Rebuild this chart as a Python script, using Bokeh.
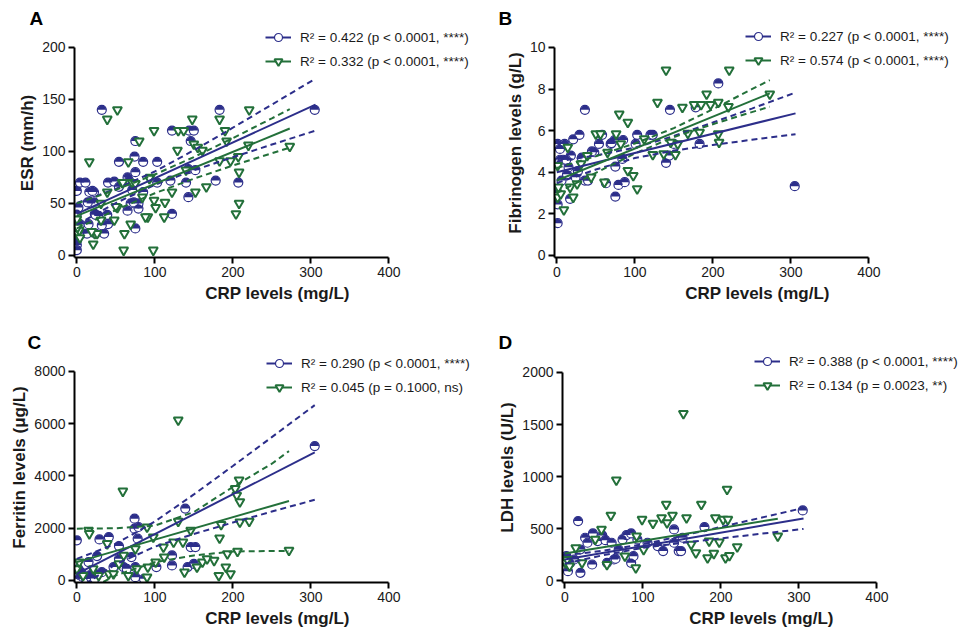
from math import pi
from bokeh.plotting import figure
from bokeh.models import FixedTicker, Legend, LegendItem, Range1d
from bokeh.layouts import column, row
from bokeh.embed import file_html
from bokeh.resources import INLINE

BLUE = "#2c2e8a"
GREEN = "#23703a"
FONT = "Liberation Sans"

x_ticks = [0, 100, 200, 300, 400]
x_label = "CRP levels (mg/L)"

# ---------------- Panel A : ESR ----------------
a_blue_x = [0, 0, 0, 0, 0, 2, 4, 4, 7, 11, 13, 15, 16, 18, 22, 23, 28, 32, 35, 40, 40, 48, 54, 54, 65, 69, 74, 75, 75, 75,
            79, 79, 85, 85, 103, 103, 120, 122, 122, 140, 143, 143, 144, 146, 150, 152, 178, 183, 207, 305,
            20, 22, 14, 24, 3, 24, 32, 39, 65, 73, 71, 67]
a_blue_y = [62, 40, 14, 10, 5, 46, 70, 30, 21, 70, 21, 30, 61, 50, 61, 40, 38, 140, 21, 70, 30, 71, 90, 66, 75, 50, 95, 80, 110, 26,
            45, 50, 90, 61, 90, 70, 72, 120, 40, 70, 56, 83, 120, 110, 120, 82, 72, 140, 70, 140,
            62, 51, 51, 39, 21, 21, 29, 39, 43, 51, 63, 72]
a_green_x = [0, 1, 3, 4, 16, 21, 23, 26, 31, 39, 39, 48, 52, 52, 58, 60, 61, 66, 71, 75, 80, 84, 91, 94, 98, 99, 101, 112, 113,
             122, 129, 130, 137, 140, 148, 150, 152, 155, 161, 166, 183, 183, 190, 192, 197, 204, 207, 208, 208, 220, 221, 273,
             0, 1, 19, 50, 59, 93, 99, 88, 69, 31]
a_green_y = [32, 21, 24, 17, 90, 11, 21, 21, 50, 131, 61, 34, 140, 46, 70, 5, 21, 90, 70, 69, 110, 56, 37, 75, 5, 120, 46, 37, 51,
             61, 101, 120, 120, 82, 131, 107, 61, 104, 101, 66, 131, 91, 120, 110, 91, 40, 95, 80, 50, 106, 140, 105,
             35, 27, 23, 47, 70, 74, 53, 37, 30, 34]
# fitted lines and 95% confidence bands
a_blue_fit_x = [0, 306]
a_blue_fit_y = [40, 145]
a_blue_ci_x = [0, 50, 100, 150, 200, 250, 306]
a_blue_ci_lo = [29.5, 50.4, 67.9, 81.9, 94.4, 106.6, 120]
a_blue_ci_hi = [50.5, 64.0, 80.7, 101.1, 122.8, 145.0, 170]
a_green_fit_x = [0, 273]
a_green_fit_y = [38, 122]
a_green_ci_x = [0, 50, 100, 150, 200, 250, 273]
a_green_ci_lo = [26, 43.7, 59.8, 73.8, 86.4, 98.2, 103.6]
a_green_ci_hi = [50, 63.1, 77.8, 94.6, 112.8, 131.8, 140.6]
a_labels = ["R² = 0.422 (p < 0.0001, ****)", "R² = 0.332 (p < 0.0001, ****)"]
a_yticks = [0, 50, 100, 150, 200]

# ---------------- Panel B : Fibrinogen ----------------
b_blue_x = [1, 1, 1, 1, 4, 4, 6, 10, 13, 15, 17, 18, 21, 24, 27, 29, 32, 36, 36, 40, 48, 54, 58, 63, 69, 74, 75, 75, 79, 85,
            87, 84, 103, 101, 120, 123, 140, 144, 145, 150, 178, 183, 207, 305, 8, 12, 45, 70]
b_blue_y = [5.36, 3.0, 2.45, 1.55, 5.12, 4.6, 3.6, 5.36, 3.9, 4.24, 2.72, 4.8, 5.58, 3.76, 4.05, 5.8, 4.7, 7.0, 3.6, 3.6, 4.96,
            5.36, 5.8, 3.47, 5.36, 5.55, 4.27, 2.83, 3.39, 5.55, 3.52, 4.64, 5.8, 5.36, 5.8, 5.8, 4.45, 4.8, 7.0, 5.36, 7.12,
            5.36, 8.27, 3.33, 4.6, 4.6, 5.0, 5.4]
b_green_x = [1, 1, 2, 5, 9, 14, 17, 21, 26, 31, 39, 44, 50, 56, 61, 65, 76, 80, 82, 91, 91, 98, 103, 112, 123, 129, 137, 140,
             146, 152, 155, 161, 168, 176, 185, 183, 192, 197, 207, 207, 208, 220, 221, 273]
b_green_y = [4.32, 2.8, 3.28, 2.96, 2.19, 5.2, 3.28, 2.8, 3.44, 4.4, 4.8, 3.76, 5.84, 5.84, 3.52, 4.96, 5.84, 6.8, 5.36, 6.4,
             4.08, 3.84, 3.2, 5.6, 4.85, 7.36, 4.88, 8.91, 5.44, 4.85, 5.36, 7.12, 5.87, 7.25, 7.25, 5.92, 7.76, 7.25, 7.36,
             5.84, 5.44, 7.15, 8.91, 7.76]
b_blue_fit_x = [0, 306]
b_blue_fit_y = [4.0, 6.83]
b_blue_ci_x = [0, 50, 100, 150, 200, 250, 306]
b_blue_ci_lo = [3.48, 4.13, 4.68, 5.04, 5.31, 5.56, 5.83]
b_blue_ci_hi = [4.52, 4.80, 5.18, 5.74, 6.39, 7.06, 7.83]
b_green_fit_x = [0, 273]
b_green_fit_y = [3.6, 7.79]
b_green_ci_x = [0, 50, 100, 150, 200, 250, 273]
b_green_ci_lo = [3.0, 3.97, 4.90, 5.69, 6.31, 6.89, 7.15]
b_green_ci_hi = [4.2, 4.77, 5.38, 6.12, 7.03, 7.99, 8.43]
b_labels = ["R² = 0.227 (p < 0.0001, ****)", "R² = 0.574 (p < 0.0001, ****)"]
b_yticks = [0, 2, 4, 6, 8, 10]

# ---------------- Panel C : Ferritin ----------------
c_blue_x = [0, 2, 2, 4, 8, 11, 15, 16, 21, 26, 29, 32, 41, 47, 54, 54, 60, 64, 70, 74, 74, 75, 75, 79, 78, 86, 102, 122, 122,
            139, 142, 146, 152, 150, 305, 3, 6, 12, 18, 23]
c_blue_y = [1536, 448, 64, 192, 128, 128, 704, 192, 320, 934, 1574, 320, 1664, 512, 1318, 832, 512, 448, 896, 2368, 1984, 512,
            128, 2048, 1600, 64, 512, 960, 576, 2752, 512, 1280, 1280, 640, 5146, 250, 300, 60, 120, 80]
c_green_x = [0, 3, 8, 15, 16, 21, 28, 39, 41, 47, 54, 59, 60, 66, 75, 77, 90, 90, 91, 98, 101, 111, 112, 124, 130, 130, 136,
             138, 146, 154, 161, 167, 176, 182, 183, 185, 191, 197, 203, 205, 208, 209, 209, 221, 206, 272, 193]
c_green_y = [448, 704, 192, 1920, 1792, 448, 192, 1408, 256, 256, 640, 3418, 960, 192, 1216, 448, 2048, 128, 512, 1664, 704,
             1280, 896, 1472, 6144, 2266, 1472, 320, 1920, 512, 704, 832, 768, 192, 1626, 2138, 512, 256, 3520, 3264, 3840,
             3008, 2240, 2266, 1114, 1152, 1024]
c_blue_fit_x = [0, 305]
c_blue_fit_y = [250, 4900]
c_blue_ci_x = [0, 50, 100, 150, 200, 250, 305]
c_blue_ci_lo = [-330, 621, 1293, 1782, 2218, 2638, 3090]
c_blue_ci_hi = [830, 1405, 2257, 3294, 4382, 5488, 6712]
c_green_fit_x = [0, 272]
c_green_fit_y = [704, 3046]
c_green_ci_x = [0, 50, 100, 150, 200, 250, 272]
c_green_ci_lo = [-600, 200, 700, 960, 1110, 1130, 1126]
c_green_ci_hi = [1984, 2000, 2100, 2620, 3580, 4470, 4954]
c_labels = ["R² = 0.290 (p < 0.0001, ****)", "R² = 0.045 (p = 0.1000, ns)"]
c_yticks = [0, 2000, 4000, 6000, 8000]

# ---------------- Panel D : LDH ----------------
d_blue_x = [1, 1, 2, 4, 7, 12, 17, 20, 20, 26, 29, 35, 36, 42, 48, 52, 54, 60, 63, 65, 69, 74, 79, 85, 85, 88, 93, 106, 119,
            126, 140, 140, 146, 149, 151, 179, 305]
d_blue_y = [202, 138, 234, 90, 170, 202, 571, 74, 298, 411, 363, 154, 453, 379, 433, 388, 170, 363, 202, 209, 298, 395, 437,
            453, 170, 234, 395, 363, 331, 283, 491, 363, 283, 283, 411, 514, 674]
d_green_x = [1, 3, 6, 14, 22, 39, 47, 54, 59, 66, 77, 91, 92, 99, 101, 113, 124, 130, 131, 138, 152, 156, 162, 168, 175, 183,
             185, 191, 193, 198, 203, 206, 208, 209, 211, 221, 273]
d_green_y = [170, 202, 138, 315, 170, 395, 491, 154, 626, 966, 234, 122, 427, 587, 298, 549, 603, 732, 555, 626, 1605, 603,
             347, 266, 732, 218, 379, 260, 603, 369, 587, 218, 876, 587, 240, 324, 427]
d_blue_fit_x = [0, 306]
d_blue_fit_y = [202, 597]
d_blue_ci_x = [0, 50, 100, 150, 200, 250, 306]
d_blue_ci_lo = [162, 245, 314, 362, 405, 448, 496]
d_blue_ci_hi = [242, 288, 348, 429, 515, 601, 698]
d_green_fit_x = [0, 273]
d_green_fit_y = [260, 594]
d_labels = ["R² = 0.388 (p < 0.0001, ****)", "R² = 0.134 (p = 0.0023, **)"]
d_yticks = [0, 500, 1000, 1500, 2000]


def panel(letter, ylabel, ystart, yend, ymax, yticks, pts, fits, bands, labels,
          left, top, bottom, fw, fh, legend_xy, letter_offset):
    p = figure(frame_width=fw, frame_height=fh, x_range=Range1d(-3, -3 + fw / 0.78), y_range=Range1d(ystart, yend),
               output_backend="svg", toolbar_location=None,
               min_border_left=left, min_border_right=0, min_border_top=top, min_border_bottom=bottom)
    p.outline_line_color = None
    p.grid.visible = False

    p.title.text = letter
    p.title.align = "left"
    p.title.offset = letter_offset
    p.title.standoff = 0
    p.title.text_font = FONT
    p.title.text_font_size = "19px"
    p.title.text_font_style = "bold"
    p.title.text_color = "black"

    p.xaxis.ticker = FixedTicker(ticks=x_ticks)
    p.yaxis.ticker = FixedTicker(ticks=yticks)
    p.xaxis.bounds = (-3, 400)
    p.yaxis.bounds = (ystart, ymax)
    p.xaxis.axis_label = x_label
    p.yaxis.axis_label = ylabel
    for ax in (p.xaxis, p.yaxis):
        ax.axis_line_width = 2
        ax.axis_line_color = "black"
        ax.major_tick_line_width = 2
        ax.major_tick_line_color = "black"
        ax.major_tick_out = 6
        ax.major_tick_in = 0
        ax.minor_tick_out = 0
        ax.minor_tick_in = 0
        ax.major_label_text_font = FONT
        ax.major_label_text_font_size = "14px"
        ax.major_label_text_color = "#1a1a1a"
        ax.major_label_standoff = 3
        ax.axis_label_text_font = FONT
        ax.axis_label_text_font_size = "17px"
        ax.axis_label_text_font_style = "bold"
        ax.axis_label_text_color = "#1a1a1a"
    p.xaxis.axis_label_standoff = 4
    p.yaxis.axis_label_standoff = 2

    bx, by, gx, gy = pts
    bsc = p.scatter(bx, by, marker="circle", size=9, fill_color="white", line_color=BLUE, line_width=1.2)
    p.wedge(bx, by, radius=4.3, radius_units="screen", start_angle=0, end_angle=pi,
            fill_color=BLUE, line_color=None)
    gsc = p.scatter(gx, gy, marker="inverted_triangle", size=9, fill_color="white", line_color=GREEN, line_width=2)

    for band, col in zip(bands, (BLUE, GREEN)):
        if band is None:
            continue
        cx, lo, hi = band
        p.line(cx, lo, line_color=col, line_width=2, line_dash="6 4")
        p.line(cx, hi, line_color=col, line_width=2, line_dash="6 4")
    rends = []
    for (fx, fy), col in zip(fits, (BLUE, GREEN)):
        rends.append(p.line(fx, fy, line_color=col, line_width=2))

    legend = Legend(items=[LegendItem(label=labels[0], renderers=[rends[0], bsc]),
                           LegendItem(label=labels[1], renderers=[rends[1], gsc])],
                    location=legend_xy, orientation="vertical", padding=0, margin=0, spacing=4,
                    glyph_width=26, glyph_height=20, label_height=20, label_standoff=9,
                    label_text_font=FONT, label_text_font_size="13.5px", label_text_color="#1a1a1a",
                    border_line_color=None, background_fill_alpha=0)
    p.add_layout(legend)
    return p


pa = panel("A", "ESR (mm/h)", -2, 218.2, 200, a_yticks,
           (a_blue_x, a_blue_y, a_green_x, a_green_y),
           ((a_blue_fit_x, a_blue_fit_y), (a_green_fit_x, a_green_fit_y)),
           ((a_blue_ci_x, a_blue_ci_lo, a_blue_ci_hi), (a_green_ci_x, a_green_ci_lo, a_green_ci_hi)),
           a_labels, 74, 28, 61, 406, 229, (191, 186), -45)
pb = panel("B", "Fibrinogen levels (g/L)", -0.1, 10.91, 10, b_yticks,
           (b_blue_x, b_blue_y, b_green_x, b_green_y),
           ((b_blue_fit_x, b_blue_fit_y), (b_green_fit_x, b_green_fit_y)),
           ((b_blue_ci_x, b_blue_ci_lo, b_blue_ci_hi), (b_green_ci_x, b_green_ci_lo, b_green_ci_hi)),
           b_labels, 74, 28, 61, 406, 229, (191, 187), -56)
pc = panel("C", "Ferritin levels (μg/L)", -76.6, 8727, 8000, c_yticks,
           (c_blue_x, c_blue_y, c_green_x, c_green_y),
           ((c_blue_fit_x, c_blue_fit_y), (c_green_fit_x, c_green_fit_y)),
           ((c_blue_ci_x, c_blue_ci_lo, c_blue_ci_hi), (c_green_ci_x, c_green_ci_lo, c_green_ci_hi)),
           c_labels, 74, 34, 48, 406, 230, (192, 185), -47)
pd = panel("D", "LDH levels (U/L)", -19.2, 2192.3, 2000, d_yticks,
           (d_blue_x, d_blue_y, d_green_x, d_green_y),
           ((d_blue_fit_x, d_blue_fit_y), (d_green_fit_x, d_green_fit_y)),
           ((d_blue_ci_x, d_blue_ci_lo, d_blue_ci_hi), None),
           d_labels, 82, 34, 48, 398, 230, (192, 187), -64)

layout = column(row(pa, pb), row(pc, pd))
open("out.html", "w").write(file_html(layout, INLINE))
